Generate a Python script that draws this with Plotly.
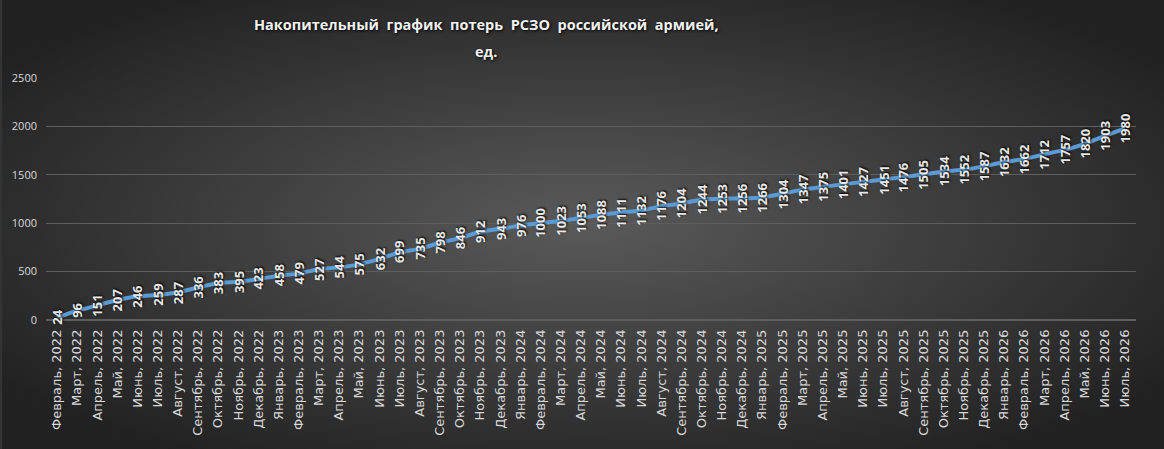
import base64
import plotly.graph_objects as go

# месяцы и накопленные потери
months = ['Февраль', 'Март', 'Апрель', 'Май', 'Июнь', 'Июль', 'Август', 'Сентябрь',
          'Октябрь', 'Ноябрь', 'Декабрь', 'Январь']
years = [2022] * 11 + [2023] * 12 + [2024] * 12 + [2025] * 12 + [2026] * 7
losses = [24, 96, 151, 207, 246, 259, 287, 336, 383, 395, 423,
          458, 479, 527, 544, 575, 632, 699, 735, 798, 846, 912, 943,
          976, 1000, 1023, 1053, 1088, 1111, 1132, 1176, 1204, 1244, 1253, 1256,
          1266, 1304, 1347, 1375, 1401, 1427, 1451, 1476, 1505, 1534, 1552, 1587,
          1632, 1662, 1712, 1757, 1820, 1903, 1980]
title_lines = ['Накопительный  график  потерь  РСЗО  российской  армией,', 'ед.']

labels = []
for i, y in enumerate(years):
    labels.append(f'{months[i % 12]}, {y}')

W, H = 1164, 449
ml, mr, mt, mb = 44, 28, 78, 129
pw, ph = W - ml - mr, H - mt - mb

# фон - радиальный градиент как в excel
svg = f'''<svg xmlns="http://www.w3.org/2000/svg" width="{W}" height="{H}" viewBox="0 0 {W} {H}" preserveAspectRatio="none">
<defs><radialGradient id="g" cx="50%" cy="50%" r="62%" fx="50%" fy="50%">
<stop offset="0%" stop-color="#5a5a5a"/><stop offset="100%" stop-color="#212121"/></radialGradient></defs>
<rect width="{W}" height="{H}" fill="url(#g)"/></svg>'''
bg = 'data:image/svg+xml;base64,' + base64.b64encode(svg.encode()).decode()

fig = go.Figure()
fig.add_trace(go.Scatter(x=labels, y=losses, mode='lines',
                         line=dict(color='#5b9bd5', width=4, shape='spline', smoothing=0.3),
                         hoverinfo='x+y'))

for x, y in zip(labels, losses):
    fig.add_annotation(x=x, y=y, text=str(y), textangle=-90, showarrow=False,
                       font=dict(family='Open Sans', size=13, color='#e8e8e8', weight='bold',
                                 shadow='1px 1px 2px #000000'))

# заголовок двумя строками
for i, t in enumerate(title_lines):
    fig.add_annotation(text=t, xref='paper', yref='paper', showarrow=False,
                       x=(485 - ml) / pw, y=1 + (mt - 25 - 26 * i) / ph,
                       xanchor='center', yanchor='middle',
                       font=dict(family='Open Sans', size=14.5, color='#f2f2f2', weight='bold',
                                 shadow='1px 1px 3px #000000'))

fig.add_layout_image(source=bg, xref='paper', yref='paper',
                     x=-ml / pw, y=1 + mt / ph, sizex=W / pw, sizey=H / ph,
                     xanchor='left', yanchor='top', sizing='stretch', layer='below')

fig.update_layout(
    width=W, height=H,
    margin=dict(l=ml, r=mr, t=mt, b=mb),
    paper_bgcolor='#333333', plot_bgcolor='rgba(0,0,0,0)',
    showlegend=False,
    xaxis=dict(type='category', tickangle=-90, showgrid=False, zeroline=False,
               showline=False, ticks='', ticklabelstandoff=6,
               tickfont=dict(family='DejaVu Sans', size=13, color='#d9d9d9')),
    yaxis=dict(range=[0, 2500], dtick=500, showgrid=True, gridcolor='#5e5e5e', gridwidth=1,
               zeroline=True, zerolinecolor='#5e5e5e', showline=False, ticks='',
               ticklabelstandoff=8,
               tickfont=dict(family='Open Sans', size=11, color='#d9d9d9')),
)

fig.write_html('out.html', config={'displayModeBar': False},
               post_script="document.body.style.margin='0';")
